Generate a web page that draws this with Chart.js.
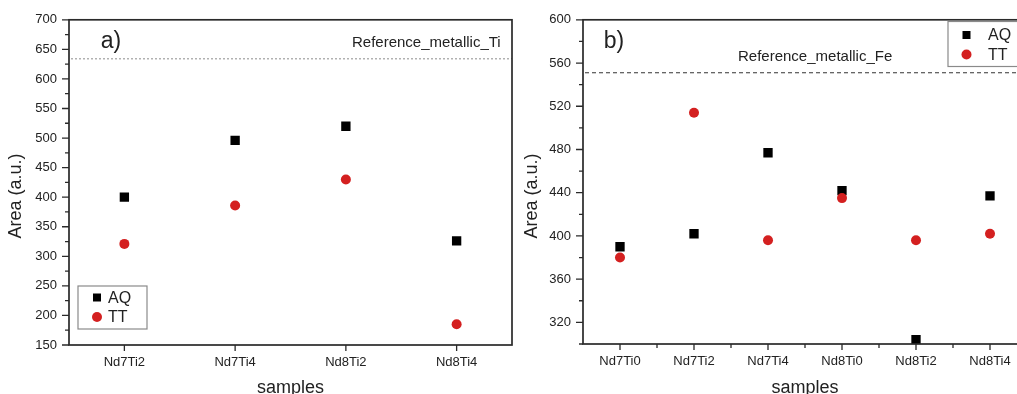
<!DOCTYPE html>
<html>
<head>
<meta charset="utf-8">
<title>Area vs samples</title>
<script src="https://cdn.jsdelivr.net/npm/chart.js@4.4.1/dist/chart.umd.min.js"></script>
<style>
  html, body { margin: 0; padding: 0; background: #fff; overflow: hidden; width: 1017px; height: 394px; }
  .panel { position: absolute; top: 0; height: 394px; overflow: hidden; }
  #panelA { left: 0; width: 520px; }
  #panelB { left: 520px; width: 497px; }
</style>
</head>
<body>
<div class="panel" id="panelA"><canvas id="chartA" width="520" height="394"></canvas></div>
<div class="panel" id="panelB"><canvas id="chartB" width="520" height="394"></canvas></div>

<script>
// ── Data: panel a) Ti ──
const samplesA = ["Nd7Ti2", "Nd7Ti4", "Nd8Ti2", "Nd8Ti4"];
const aqA = [400, 496, 520, 326];
const ttA = [321, 386, 430, 185];
const yTicksA = [150, 200, 250, 300, 350, 400, 450, 500, 550, 600, 650, 700];
const refA = 634;

// ── Data: panel b) Fe ──
const samplesB = ["Nd7Ti0", "Nd7Ti2", "Nd7Ti4", "Nd8Ti0", "Nd8Ti2", "Nd8Ti4"];
const aqB = [390, 402, 477, 442, 304, 437];
const ttB = [380, 514, 396, 435, 396, 402];
const yTicksB = [320, 360, 400, 440, 480, 520, 560, 600];
const refB = 551;

const FONT = "Arial, 'Liberation Sans', sans-serif";
const INK = "#222";
const RED = "#d42020";

// ── Frame, ticks, reference line, labels, legend ──
const decorPlugin = {
  id: "decor",
  beforeDatasetsDraw(chart, args, o) {
    const { ctx, chartArea: a, scales: { y } } = chart;
    const py = y.getPixelForValue(o.refValue);
    ctx.save();
    ctx.strokeStyle = o.refColor;
    ctx.lineWidth = 1;
    ctx.setLineDash(o.refDash);
    ctx.beginPath();
    ctx.moveTo(a.left + 2, py);
    ctx.lineTo(a.right, py);
    ctx.stroke();
    ctx.restore();
  },
  afterDraw(chart, args, o) {
    const { ctx, chartArea: a, scales: { x, y } } = chart;
    ctx.save();
    ctx.strokeStyle = "#2a2a2a";
    ctx.lineWidth = 1.7;

    // frame
    ctx.strokeRect(a.left, a.top, a.right - a.left, a.bottom - a.top);

    // y ticks (major + minor)
    ctx.lineWidth = 1.3;
    ctx.beginPath();
    const yt = y.ticks.map(t => t.value);
    const step = yt[1] - yt[0];
    yt.forEach(v => {
      const p = y.getPixelForValue(v);
      ctx.moveTo(a.left, p); ctx.lineTo(a.left - 7, p);
    });
    for (let v = yt[0] - step / 2; v < y.max; v += step) {
      if (v < y.min) continue;
      const p = y.getPixelForValue(v);
      ctx.moveTo(a.left, p); ctx.lineTo(a.left - 4, p);
    }
    // x ticks
    const n = chart.data.labels.length;
    for (let i = 0; i < n; i++) {
      const p = x.getPixelForValue(i);
      ctx.moveTo(p, a.bottom); ctx.lineTo(p, a.bottom + 6);
      if (o.xMinor && i < n - 1) {
        const m = (p + x.getPixelForValue(i + 1)) / 2;
        ctx.moveTo(m, a.bottom); ctx.lineTo(m, a.bottom + 4);
      }
    }
    ctx.stroke();

    // axis titles
    ctx.fillStyle = INK;
    ctx.textAlign = "center";
    ctx.textBaseline = "alphabetic";
    ctx.font = `18px ${FONT}`;
    ctx.fillText("samples", (a.left + a.right) / 2, 393);
    ctx.save();
    ctx.translate(o.yTitleX, 196);
    ctx.rotate(-Math.PI / 2);
    ctx.textBaseline = "middle";
    ctx.fillText("Area (a.u.)", 0, 0);
    ctx.restore();

    // panel letter + reference label
    ctx.textBaseline = "middle";
    ctx.font = `23px ${FONT}`;
    ctx.fillText(o.letter, o.letterX, 42);
    ctx.textAlign = "left";
    ctx.font = `15px ${FONT}`;
    ctx.fillText(o.refLabel, o.refLabelX, o.refLabelY);

    // legend
    const L = o.legend;
    ctx.strokeStyle = "#8a8a8a";
    ctx.lineWidth = 1.2;
    ctx.fillStyle = "#fff";
    ctx.fillRect(L.x, L.y, L.w, L.h);
    ctx.strokeRect(L.x, L.y, L.w, L.h);
    ctx.font = `16px ${FONT}`;
    chart.data.datasets.forEach((ds, i) => {
      const cy = L.y + L.first + i * L.gap;
      ctx.fillStyle = ds.backgroundColor;
      ctx.beginPath();
      if (ds.pointStyle === "rect") {
        ctx.rect(L.mx - 4, cy - 4, 8, 8);
      } else {
        ctx.arc(L.mx, cy, 5, 0, Math.PI * 2);
      }
      ctx.fill();
      ctx.fillStyle = INK;
      ctx.fillText(ds.label, L.tx, cy + 1);
    });
    ctx.restore();
  }
};

function makeChart(id, labels, aq, tt, yTicks, yMin, yMax, plotBox, decor) {
  const canvas = document.getElementById(id);
  return new Chart(canvas.getContext("2d"), {
    type: "line",
    data: {
      labels: labels,
      datasets: [
        {
          label: "AQ", data: aq, order: 1,
          showLine: false, pointStyle: "rect",
          pointRadius: 6.6, pointHoverRadius: 6.6, pointBorderWidth: 0,
          backgroundColor: "#000", borderColor: "#000"
        },
        {
          label: "TT", data: tt, order: 0,
          showLine: false, pointStyle: "circle",
          pointRadius: 5, pointHoverRadius: 5, pointBorderWidth: 0,
          backgroundColor: RED, borderColor: RED
        }
      ]
    },
    options: {
      responsive: false,
      animation: false,
      events: [],
      layout: { padding: { top: plotBox.top, right: plotBox.right, left: 0, bottom: 0 } },
      plugins: { legend: { display: false }, tooltip: { enabled: false }, decor: decor },
      scales: {
        x: {
          type: "category",
          offset: true,
          grid: { display: false, drawTicks: false },
          border: { display: false },
          ticks: { color: INK, font: { family: FONT, size: 13 }, padding: 10, maxRotation: 0, autoSkip: false },
          afterFit: s => { s.height = plotBox.xh; }
        },
        y: {
          min: yMin,
          max: yMax,
          grid: { display: false, drawTicks: false },
          border: { display: false },
          ticks: { color: INK, font: { family: FONT, size: 13 }, padding: 12 },
          afterBuildTicks: s => { s.ticks = yTicks.map(v => ({ value: v })); },
          afterFit: s => { s.width = plotBox.yw; }
        }
      }
    },
    plugins: [decorPlugin]
  });
}

makeChart("chartA", samplesA, aqA, ttA, yTicksA, 150, 700,
  { top: 19, right: 8, xh: 49, yw: 69 },
  {
    refValue: refA, refColor: "#8c8c8c", refDash: [2, 2],
    xMinor: false, yTitleX: 16,
    letter: "a)", letterX: 111,
    refLabel: "Reference_metallic_Ti", refLabelX: 352, refLabelY: 43,
    legend: { x: 78, y: 286, w: 69, h: 43, first: 11.5, gap: 19.5, mx: 97, tx: 108 }
  });

makeChart("chartB", samplesB, aqB, ttB, yTicksB, 300, 600,
  { top: 18.5, right: 13, xh: 50, yw: 63 },
  {
    refValue: refB, refColor: "#333", refDash: [4, 3],
    xMinor: true, yTitleX: 12,
    letter: "b)", letterX: 94,
    refLabel: "Reference_metallic_Fe", refLabelX: 218, refLabelY: 57,
    legend: { x: 428, y: 21.5, w: 110, h: 45, first: 13.5, gap: 19.5, mx: 446.5, tx: 468 }
  });
</script>
</body>
</html>
